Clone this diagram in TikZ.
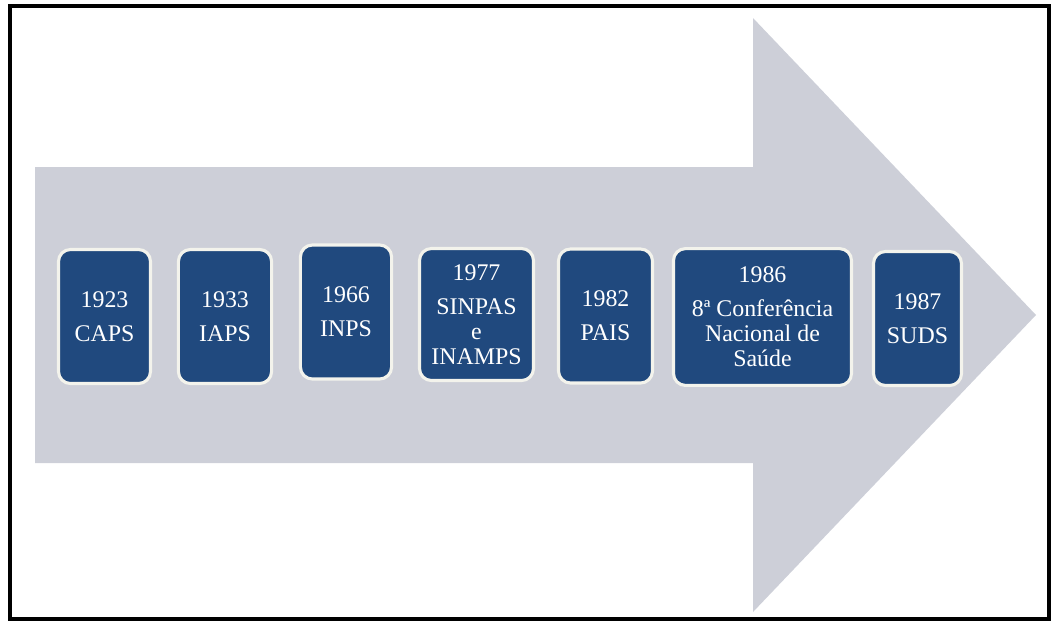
\documentclass[tikz,border=0pt]{standalone}
\usepackage{fontspec}
\setmainfont{Liberation Serif}
\usetikzlibrary{positioning}

\definecolor{arrowgray}{RGB}{205,207,216}
\definecolor{boxblue}{RGB}{32,73,126}
\definecolor{boxrim}{RGB}{243,243,236}

\tikzset{
  yearbox/.style={draw=boxrim, line width=2.2pt, fill=boxblue, rounded corners=0.3cm,
    text=white, align=center, inner sep=2pt,
    font=\fontsize{17}{17.8}\selectfont, minimum height=3.35cm}
}

\begin{document}
\begin{tikzpicture}[x=0.025cm, y=-0.025cm]
\useasboundingbox (0,0) rectangle (1052,621);
\def\yg{6.4pt}

\def\xa{35};
\def\xb{753};
\def\xc{1036};
\def\ya{18};
\def\yb{167};
\def\yc{315};
\def\yd{463};
\def\ye{612};

\draw[line width=2.5pt] (10,6) rectangle (1049,619);
\fill[arrowgray] (\xa,\yb) -- (\xb,\yb) -- (\xb,\ya) -- (\xc,\yc) -- (\xb,\ye)
  -- (\xb,\yd) -- (\xa,\yd) -- cycle;

\node[yearbox, minimum width=2.3cm] (caps) at (104.5,316.5) {1923\\[\yg]CAPS};
\node[yearbox, minimum width=2.33cm] (iaps) at (225,316.5) {1933\\[\yg]IAPS};
\node[yearbox, minimum width=2.28cm] (inps) at (346,312) {1966\\[\yg]INPS};
\node[yearbox, minimum width=2.85cm, minimum height=3.3cm] (sinpas) at (476.5,314.5) {1977\\[\yg]SINPAS\\e\\INAMPS};
\node[yearbox, minimum width=2.35cm] (pais) at (605.5,316) {1982\\[\yg]PAIS};
\node[yearbox, minimum width=4.45cm, minimum height=3.42cm] (conf) at (762.5,317) {1986\\[\yg]8ª Conferência\\Nacional de\\Saúde};
\node[yearbox, minimum width=2.2cm] (suds) at (917.5,318.5) {1987\\[\yg]SUDS};

\end{tikzpicture}
\end{document}
